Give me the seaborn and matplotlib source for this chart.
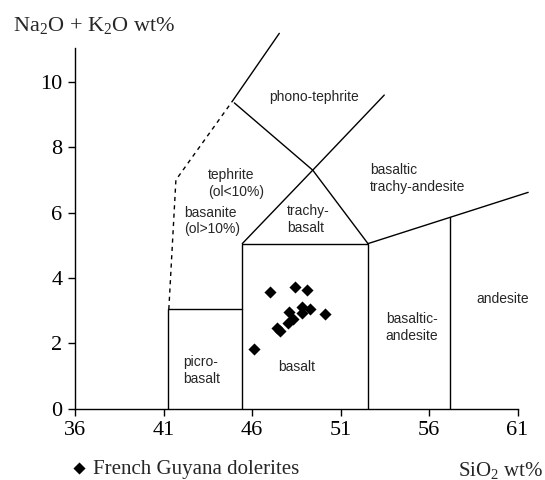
import matplotlib
matplotlib.use("Agg")
import matplotlib.pyplot as plt
import seaborn as sns
import pandas as pd

# sample points (SiO2, Na2O+K2O)
sio2 = [46.1, 47.0, 48.45, 49.1, 48.1, 48.8, 49.25, 48.85, 50.1, 48.3, 48.05, 47.4, 47.6]
alk = [1.81, 3.58, 3.71, 3.63, 2.96, 3.12, 3.04, 2.93, 2.88, 2.73, 2.61, 2.46, 2.37]

# TAS field boundaries, as drawn
solid_lines = [
    ([41.27, 41.27, 45.45], [0, 3.04, 3.04]),
    ([45.45, 45.45, 52.55, 52.55], [0, 5.05, 5.05, 0]),
    ([57.2, 57.2], [0, 5.86]),
    ([52.55, 61.6], [5.05, 6.62]),
    ([45.45, 49.43, 53.47], [5.05, 7.30, 9.60]),
    ([52.55, 49.43, 45.0], [5.05, 7.30, 9.36]),
    ([44.9, 47.54], [9.42, 11.49]),
]
dashed_x = [41.3, 41.7, 44.9]
dashed_y = [3.04, 7.0, 9.42]

fields = [
    ("phono-tephrite", 49.5, 9.55, "center"),
    ("basaltic\ntrachy-andesite", 52.66, 7.04, "left"),
    ("tephrite\n(ol<10%)", 43.53, 6.9, "left"),
    ("basanite\n(ol>10%)", 42.16, 5.74, "left"),
    ("trachy-\nbasalt", 47.96, 5.8, "left"),
    ("basalt", 48.52, 1.28, "center"),
    ("picro-\nbasalt", 42.12, 1.16, "left"),
    ("basaltic-\nandesite", 53.55, 2.47, "left"),
    ("andesite", 58.66, 3.34, "left"),
]

xticks = [36, 41, 46, 51, 56, 61]
yticks = [0, 2, 4, 6, 8, 10]

sns.set_style("ticks")
plt.rcParams["font.family"] = ["Liberation Serif", "DejaVu Serif"]
plt.rcParams["mathtext.fontset"] = "custom"
plt.rcParams["mathtext.rm"] = "Liberation Serif"
plt.rcParams["mathtext.it"] = "Liberation Serif:italic"

fig = plt.figure(figsize=(5.45, 4.8), dpi=100)
ax = fig.add_axes([75 / 545, (480 - 408.5) / 480, 470 / 545, 11.7 * 32.65 / 480])

for xs, ys in solid_lines:
    ax.plot(xs, ys, color="black", lw=1.0, solid_joinstyle="miter")
ax.plot(dashed_x, dashed_y, color="black", lw=1.0, ls=(0, (3, 3)))

df = pd.DataFrame({"SiO2": sio2, "alk": alk})
sns.scatterplot(data=df, x="SiO2", y="alk", marker="D", s=38, color="black",
                edgecolor="black", linewidth=0, ax=ax, label="French Guyana dolerites",
                zorder=5)

for txt, x, y, ha in fields:
    ax.text(x, y, txt, ha=ha, va="center", fontsize=10, family="Liberation Sans",
            linespacing=1.25)

ax.set_xlim(36, 62.55)
ax.set_ylim(0, 11.7)
ax.set_xticks(xticks)
ax.set_yticks(yticks)
ax.tick_params(direction="out", length=5, width=1.0, labelsize=16, pad=4, colors="black")
ax.spines["left"].set_bounds(0, 11.04)
ax.spines["bottom"].set_bounds(36, 61)
for s in ["left", "bottom"]:
    ax.spines[s].set_linewidth(1.0)
    ax.spines[s].set_color("black")
sns.despine(ax=ax)
ax.set_xlabel("")
ax.set_ylabel("")

fig.text(13 / 545, 1 - 31 / 480, r"Na$_2$O + K$_2$O wt%", fontsize=16,
         ha="left", va="baseline")
fig.text(543 / 545, 1 - 476 / 480, r"SiO$_2$ wt%", fontsize=15,
         ha="right", va="baseline")

leg = ax.legend(loc="lower left", bbox_to_anchor=(58 / 545, -9 / 480),
                bbox_transform=fig.transFigure, frameon=False, fontsize=15,
                handletextpad=0.2, borderpad=0, handlelength=1.0, markerscale=1.0)

fig.savefig("out.png", dpi=100, facecolor="white")
